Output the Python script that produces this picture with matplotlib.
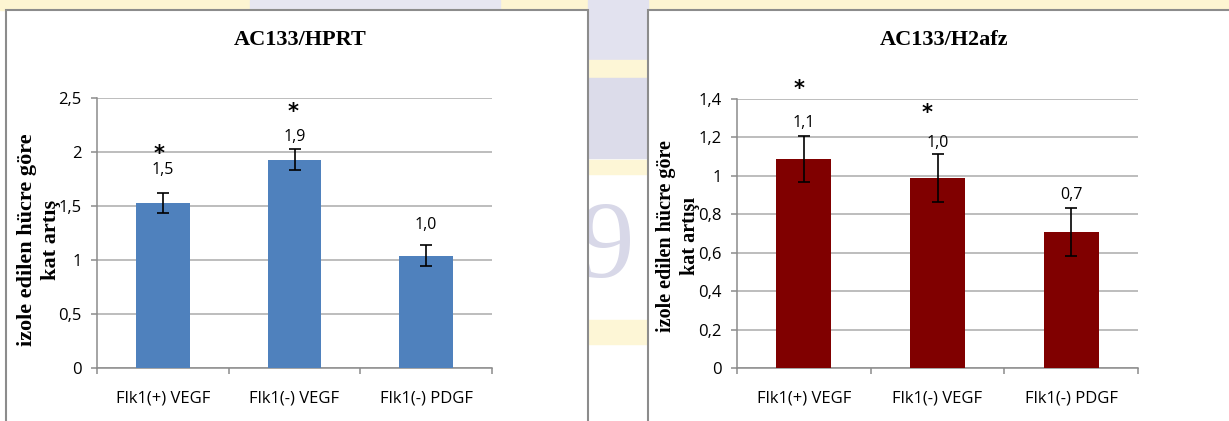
import numpy as np
import matplotlib.pyplot as plt
from matplotlib.patches import Rectangle

categories = ['Flk1(+) VEGF', 'Flk1(-) VEGF', 'Flk1(-) PDGF']

hprt_vals = [1.53, 1.93, 1.04]
hprt_err = [0.095, 0.10, 0.10]
hprt_labels = ['1,5', '1,9', '1,0']
hprt_stars = [True, True, False]

h2afz_vals = [1.09, 0.99, 0.71]
h2afz_err = [0.12, 0.125, 0.125]
h2afz_labels = ['1,1', '1,0', '0,7']
h2afz_stars = [True, True, False]

W, H = 1229, 421
fig = plt.figure(figsize=(W / 100, H / 100), dpi=100)
fig.patch.set_facecolor('white')


def fx(px):
    return px / W


def fy(py):
    return 1 - py / H


# faint watermark showing between the panels
bg = [
    (0, 0, 1229, 10, '#fdf5d2'),
    (250, 0, 250, 10, '#e6e6f1'),
    (588, 0, 60, 60, '#e2e2ef'),
    (588, 60, 60, 18, '#fdf6d6'),
    (588, 78, 60, 80, '#dcdcea'),
    (588, 160, 60, 14, '#fdf6d6'),
    (588, 320, 60, 24, '#fdf6d6'),
]
for x0, y0, w, h, c in bg:
    fig.patches.append(Rectangle((fx(x0), fy(y0 + h)), fx(w), h / H,
                                 transform=fig.transFigure, color=c, zorder=0))
fig.text(fx(606), fy(250), '9', fontsize=80, family='Liberation Serif',
         color='#d8d8e8', ha='center', va='center', zorder=0)

# panel frames
for x0, x1 in [(6, 588), (648, 1240)]:
    fig.patches.append(Rectangle((fx(x0), -0.1), fx(x1 - x0), fy(10) + 0.1,
                                 transform=fig.transFigure, facecolor='white',
                                 edgecolor='#8c8c8c', lw=1.5, zorder=1))


def panel(rect, vals, err, labels, stars, color, ymax, step, title, ylabel,
          ylabel_size, ylabel_y, label_off, star_dx, star_off, title_x):
    ax = fig.add_axes(rect, zorder=2)
    ax.patch.set_alpha(0)
    x = np.arange(len(categories))
    ax.bar(x, vals, width=0.41, color=color, zorder=3,
           yerr=err, error_kw=dict(ecolor='black', elinewidth=1.2,
                                   capsize=4.5, capthick=1.2))
    ax.set_xlim(-0.5, 2.5)
    ax.set_ylim(0, ymax)
    ticks = np.arange(0, ymax + step / 2, step)
    ax.set_yticks(ticks)
    ax.set_yticklabels([('%g' % t).replace('.', ',') for t in ticks],
                       family='Open Sans', fontsize=12)
    ax.yaxis.grid(True, color='#ababab', lw=1.1, zorder=0)
    ax.set_xticks(x)
    ax.set_xticklabels(categories, family='Open Sans', fontsize=12)
    ax.set_xticks([-0.5, 0.5, 1.5, 2.5], minor=True)
    ax.tick_params(axis='x', which='major', length=0, pad=16)
    ax.tick_params(axis='x', which='minor', length=4, color='#8c8c8c', width=1.1)
    ax.tick_params(axis='y', length=4, color='#8c8c8c', width=1.1, pad=7)
    for s in ['top', 'right']:
        ax.spines[s].set_visible(False)
    for s in ['left', 'bottom']:
        ax.spines[s].set_color('#8c8c8c')
        ax.spines[s].set_linewidth(1.1)
    ax.set_ylabel(ylabel, family='Liberation Serif', fontweight='bold',
                  fontsize=ylabel_size, multialignment='center',
                  linespacing=1.3, va='center')
    ax.yaxis.set_label_coords(-0.147, ylabel_y)
    for i, v in enumerate(vals):
        ax.annotate(labels[i], (x[i], v), xytext=(0, label_off[i]),
                    textcoords='offset pixels', ha='center', va='center',
                    family='Open Sans', fontsize=11.5)
        if stars[i]:
            ax.annotate('*', (x[i], v), xytext=(star_dx[i], star_off[i]),
                        textcoords='offset pixels', ha='center', va='center',
                        fontsize=15, fontweight='bold')
    fig.text(title_x, fy(40), title, family='Liberation Serif',
             fontweight='bold', fontsize=16, ha='center', va='center', zorder=3)
    return ax


panel([fx(97), fy(368), fx(492 - 97), (368 - 98) / H], hprt_vals, hprt_err,
      hprt_labels, hprt_stars, '#4f81bd', 2.5, 0.5, 'AC133/HPRT',
      'izole edilen hücre göre\nkat artış', 16, 0.475, [33, 23, 31],
      [-4, -1, 0], [49, 48, 0], fx(300))

panel([fx(737), fy(368), fx(1138 - 737), (368 - 99) / H], h2afz_vals, h2afz_err,
      h2afz_labels, h2afz_stars, '#800000', 1.4, 0.2, 'AC133/H2afz',
      'izole edilen hücre göre\nkat artışı', 14.5, 0.49, [36, 35, 37],
      [-5, -10, 0], [70, 65, 0], fx(944))

fig.savefig('out.png', dpi=100)
